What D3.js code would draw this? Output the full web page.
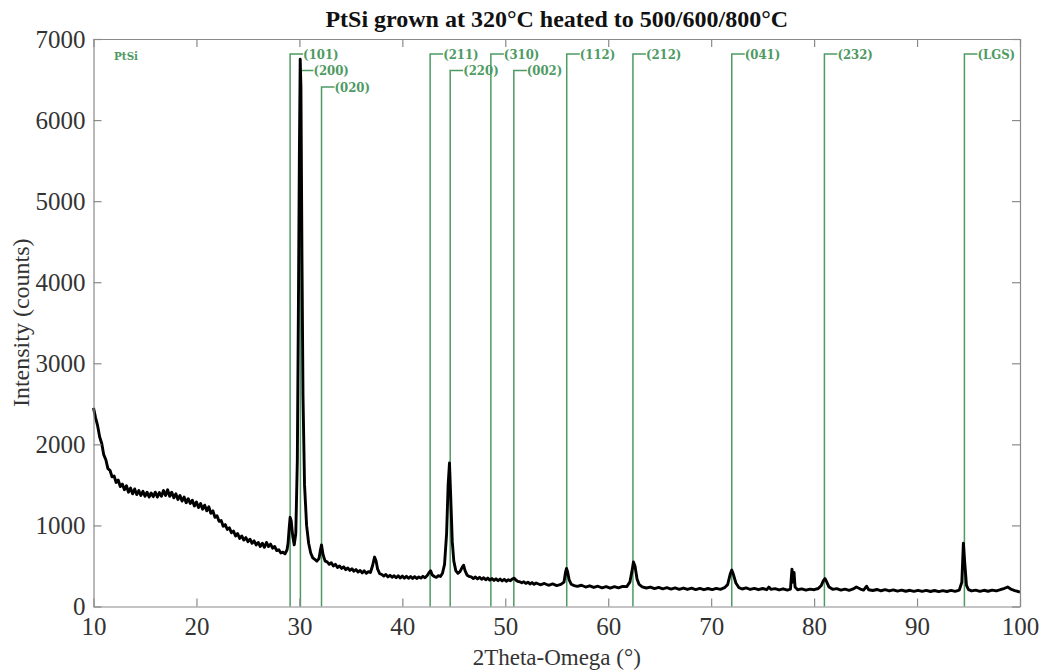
<!DOCTYPE html>
<html>
<head>
<meta charset="utf-8">
<script src="https://cdn.jsdelivr.net/npm/d3@7"></script>
<style>
  body { margin: 0; background: #fff; }
</style>
</head>
<body>
<script>
// PtSi XRD scan, 2theta-omega

const title = 'PtSi grown at 320°C heated to 500/600/800°C';
const xTicks = [10, 20, 30, 40, 50, 60, 70, 80, 90, 100];
const yTicks = [0, 1000, 2000, 3000, 4000, 5000, 6000, 7000];

// scan split in ranges, [2theta, counts]
const scanLow = [
  [10.0, 2450], [10.2, 2330], [10.4, 2230], [10.6, 2090], [10.8, 2010], [11.0, 1870],
  [11.2, 1810], [11.4, 1700], [11.6, 1680], [11.8, 1600], [12.0, 1610], [12.2, 1530],
  [12.4, 1560], [12.6, 1480], [12.8, 1510], [13.0, 1440], [13.2, 1490], [13.4, 1410],
  [13.6, 1460], [13.8, 1390], [14.0, 1450], [14.2, 1380], [14.4, 1430], [14.6, 1370],
  [14.8, 1420], [15.0, 1360], [15.2, 1410], [15.4, 1350], [15.6, 1400], [15.8, 1355],
  [16.0, 1410], [16.2, 1350], [16.4, 1405], [16.6, 1360], [16.8, 1430], [17.0, 1370],
  [17.2, 1440], [17.4, 1360], [17.6, 1410], [17.8, 1340], [18.0, 1390], [18.2, 1320],
  [18.4, 1370], [18.6, 1300], [18.8, 1350], [19.0, 1280], [19.2, 1330], [19.4, 1270],
  [19.6, 1310], [19.8, 1240], [20.0, 1290], [20.2, 1220], [20.4, 1270], [20.6, 1200],
  [20.8, 1250], [21.0, 1180], [21.2, 1230], [21.4, 1150], [21.6, 1180], [21.8, 1100],
  [22.0, 1120], [22.2, 1050], [22.4, 1060], [22.6, 990], [22.8, 1010], [23.0, 950],
  [23.2, 970], [23.4, 910], [23.6, 930], [23.8, 870], [24.0, 900], [24.2, 840],
  [24.4, 870], [24.6, 820], [24.8, 850], [25.0, 800], [25.2, 830], [25.4, 780],
  [25.6, 810], [25.8, 760], [26.0, 790], [26.2, 740], [26.4, 780], [26.6, 730],
  [26.8, 790], [27.0, 740], [27.2, 770], [27.4, 720], [27.6, 740], [27.8, 690],
  [28.0, 700], [28.2, 660], [28.4, 670], [28.6, 650], [28.8, 700]
];

const scanMid = [
  [28.9, 780], [29.0, 950], [29.1, 1100], [29.2, 1060], [29.35, 870], [29.5, 760],
  [29.65, 900], [29.8, 1800], [29.9, 3600], [30.0, 5600], [30.08, 6750], [30.15, 6400],
  [30.25, 4300], [30.35, 2600], [30.5, 1500], [30.7, 1000], [30.9, 780], [31.1, 660],
  [31.3, 600], [31.5, 580], [31.7, 560], [31.9, 590], [32.05, 700], [32.15, 760],
  [32.3, 640], [32.5, 560], [32.7, 550], [32.9, 520], [33.1, 540], [33.3, 500],
  [33.5, 520], [33.7, 480], [33.9, 500], [34.1, 470], [34.3, 490], [34.5, 455],
  [34.7, 475], [34.9, 445], [35.1, 465], [35.3, 435], [35.5, 455], [35.7, 425],
  [35.9, 445], [36.1, 415], [36.3, 440], [36.5, 410], [36.7, 430], [36.9, 420],
  [37.1, 500], [37.3, 610], [37.45, 560], [37.6, 460], [37.8, 405], [38.0, 395],
  [38.2, 375], [38.4, 395], [38.6, 365], [38.8, 385], [39.0, 360], [39.2, 380],
  [39.4, 355], [39.6, 378], [39.8, 352], [40.0, 375], [40.2, 350], [40.4, 372],
  [40.6, 348], [40.8, 370], [41.0, 345], [41.2, 368], [41.4, 345], [41.6, 365],
  [41.8, 350], [42.0, 372], [42.2, 355], [42.4, 380], [42.6, 420], [42.75, 440],
  [42.9, 390], [43.1, 370], [43.3, 360], [43.5, 380], [43.7, 370], [43.9, 410],
  [44.1, 520], [44.3, 900], [44.45, 1500], [44.58, 1770], [44.7, 1350], [44.85, 800],
  [45.0, 560], [45.2, 440], [45.4, 410], [45.6, 430], [45.8, 480], [45.95, 510],
  [46.1, 440], [46.3, 385], [46.5, 370], [46.7, 365], [46.9, 345], [47.1, 365],
  [47.3, 340], [47.5, 360], [47.7, 335], [47.9, 355], [48.1, 330], [48.3, 350],
  [48.5, 325], [48.7, 345], [48.9, 322], [49.1, 342], [49.3, 318], [49.5, 338],
  [49.7, 315], [49.9, 335]
];

const scanHigh = [
  [50.1, 312], [50.3, 330], [50.5, 318], [50.7, 340], [50.85, 350], [51.0, 330],
  [51.2, 310], [51.4, 305], [51.6, 292], [51.8, 305], [52.0, 285], [52.2, 300],
  [52.4, 278], [52.6, 295], [52.8, 274], [53.0, 290], [53.4, 268], [53.8, 284],
  [54.2, 262], [54.6, 278], [55.0, 258], [55.4, 272], [55.7, 300], [55.85, 420],
  [55.95, 470], [56.05, 430], [56.2, 330], [56.4, 275], [56.7, 258], [57.0, 248],
  [57.4, 262], [57.8, 240], [58.2, 255], [58.6, 235], [59.0, 250], [59.4, 230],
  [59.8, 246], [60.2, 228], [60.6, 244], [61.0, 230], [61.4, 248], [61.8, 245],
  [62.1, 300], [62.3, 430], [62.45, 550], [62.6, 500], [62.8, 340], [63.0, 272],
  [63.3, 242], [63.7, 228], [64.1, 240], [64.5, 220], [64.9, 235], [65.3, 218],
  [65.7, 232], [66.1, 214], [66.5, 230], [66.9, 212], [67.3, 228], [67.7, 210],
  [68.1, 226], [68.5, 208], [68.9, 224], [69.3, 207], [69.7, 222], [70.1, 208],
  [70.5, 224], [70.9, 212], [71.3, 232], [71.6, 270], [71.85, 400], [72.0, 450],
  [72.15, 400], [72.4, 290], [72.7, 232], [73.0, 216], [73.4, 230], [73.8, 210],
  [74.2, 224], [74.6, 207], [75.0, 222], [75.4, 207], [75.6, 240], [75.8, 212],
  [76.2, 220], [76.6, 204], [77.0, 218], [77.4, 202], [77.7, 214], [77.85, 460],
  [77.95, 300], [78.05, 420], [78.15, 240], [78.4, 207], [78.8, 217], [79.2, 202],
  [79.6, 214], [80.0, 207], [80.4, 222], [80.7, 260], [80.9, 320], [81.05, 345],
  [81.2, 310], [81.45, 240], [81.8, 212], [82.2, 220], [82.6, 202], [83.0, 214],
  [83.4, 200], [83.8, 217], [84.1, 240], [84.5, 215], [84.8, 202], [85.1, 250],
  [85.3, 207], [85.7, 197], [86.1, 210], [86.5, 194], [86.9, 207], [87.3, 192],
  [87.7, 205], [88.1, 190], [88.5, 202], [88.9, 188], [89.3, 200], [89.7, 187],
  [90.1, 200], [90.5, 186], [90.9, 198], [91.3, 185], [91.7, 197], [92.1, 184],
  [92.5, 196], [92.9, 185], [93.3, 198], [93.7, 187], [94.1, 202], [94.35, 300],
  [94.5, 780], [94.62, 560], [94.8, 260], [95.0, 207], [95.3, 192], [95.7, 202],
  [96.1, 187], [96.5, 200], [96.9, 188], [97.3, 202], [97.7, 192], [98.1, 207],
  [98.5, 225], [98.8, 240], [99.1, 215], [99.5, 197], [100.0, 178]
];

// PtSi reference reflections
const refLabels = ['(101)', '(200)', '(020)', '(211)', '(220)', '(310)', '(002)',
                   '(112)', '(212)', '(041)', '(232)', '(LGS)'];
const refAngles = [29.1, 30.1, 32.15, 42.7, 44.65, 48.6, 50.83, 55.97, 62.4, 72.0, 81.0, 94.6];

const width = 1042, height = 672;
const margin = {top: 39, right: 22, bottom: 65, left: 93.5};
const green = '#4e9a63';
const serif = '"Liberation Serif", "Times New Roman", serif';
const labelFont = '"DejaVu Serif Condensed", "DejaVu Serif", serif';

const svg = d3.select('body').append('svg')
  .attr('width', width)
  .attr('height', height)
  .style('font-family', serif);

const x = d3.scaleLinear().domain([10, 100]).range([margin.left, width - margin.right]);
const y = d3.scaleLinear().domain([0, 7000]).range([height - margin.bottom - 0.5, margin.top]);

// title
svg.append('text')
  .attr('x', (x(10) + x(100)) / 2)
  .attr('y', 27)
  .attr('text-anchor', 'middle')
  .attr('font-size', 24)
  .attr('font-weight', 'bold')
  .attr('fill', '#111')
  .text(title);

// reference lines, staggered when labels would collide
const refG = svg.append('g').attr('class', 'refs');
const tierEnd = [];
refLabels.forEach((lab, i) => {
  const px = x(refAngles[i]);
  const t = refG.append('text')
    .style('font-family', labelFont)
    .attr('font-size', 13)
    .attr('font-weight', 'bold')
    .attr('fill', green)
    .attr('dominant-baseline', 'central')
    .text(lab);
  const w = t.node().getComputedTextLength();
  const start = px + 13;
  let tier = 0;
  while (tierEnd[tier] !== undefined && tierEnd[tier] > start - 2) tier++;
  tierEnd[tier] = start + w;
  const top = y(7000) + 15 + tier * 16.5;
  t.attr('x', start).attr('y', top);
  refG.append('path')
    .attr('d', `M${px},${y(0)}V${top}H${start}`)
    .attr('fill', 'none')
    .attr('stroke', green)
    .attr('stroke-width', 1.5);
});

svg.append('text')
  .style('font-family', labelFont)
  .attr('x', x(12.0))
  .attr('y', y(7000) + 17)
  .attr('font-size', 11.5)
  .attr('font-weight', 'bold')
  .attr('fill', green)
  .attr('dominant-baseline', 'central')
  .text('PtSi');

// scan curve
const scan = scanLow.concat(scanMid, scanHigh);
svg.append('path')
  .datum(scan)
  .attr('fill', 'none')
  .attr('stroke', '#000')
  .attr('stroke-width', 2.9)
  .attr('stroke-linejoin', 'round')
  .attr('d', d3.line().x(d => x(d[0])).y(d => y(d[1])));

// axes, box with inward ticks
function styleAxis(g) {
  g.attr('font-family', serif).attr('font-size', 25);
  g.selectAll('path, line').attr('stroke', '#8a8a8a').attr('stroke-width', 1.2);
  g.selectAll('text').attr('fill', '#333');
}

svg.append('g')
  .attr('transform', `translate(0,${y(0)})`)
  .call(d3.axisBottom(x).tickValues(xTicks).tickSizeInner(-8).tickSizeOuter(0)
    .tickPadding(11).tickFormat(d3.format('d')))
  .call(styleAxis);

svg.append('g')
  .attr('transform', `translate(0,${y(7000)})`)
  .call(d3.axisTop(x).tickValues(xTicks).tickSizeInner(-8).tickSizeOuter(0).tickFormat(''))
  .call(styleAxis);

svg.append('g')
  .attr('transform', `translate(${x(10)},0)`)
  .call(d3.axisLeft(y).tickValues(yTicks).tickSizeInner(-8).tickSizeOuter(0)
    .tickPadding(8).tickFormat(d3.format('d')))
  .call(styleAxis);

svg.append('g')
  .attr('transform', `translate(${x(100)},0)`)
  .call(d3.axisRight(y).tickValues(yTicks).tickSizeInner(-8).tickSizeOuter(0).tickFormat(''))
  .call(styleAxis);

// axis titles
svg.append('text')
  .attr('x', (x(10) + x(100)) / 2)
  .attr('y', 665)
  .attr('text-anchor', 'middle')
  .attr('font-size', 23)
  .attr('fill', '#333')
  .text('2Theta-Omega (°)');

svg.append('text')
  .attr('transform', `translate(29,${(y(0) + y(7000)) / 2}) rotate(-90)`)
  .attr('text-anchor', 'middle')
  .attr('font-size', 24)
  .attr('fill', '#333')
  .text('Intensity (counts)');
</script>
</body>
</html>
